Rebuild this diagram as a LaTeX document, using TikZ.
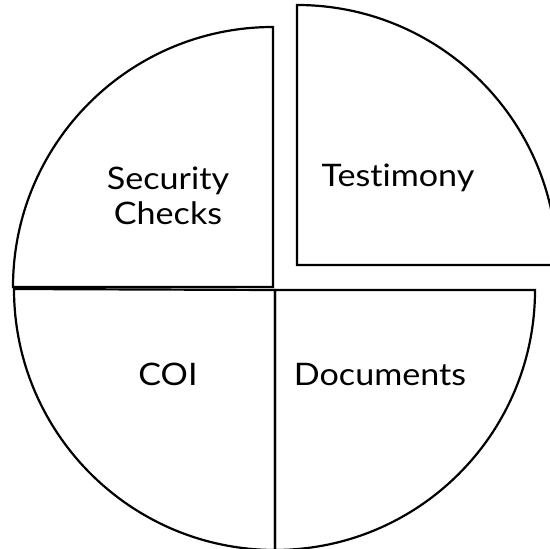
\documentclass[tikz,border=0pt]{standalone}
\usepackage{fontspec}
\setmainfont{Lato}[Ligatures={NoCommon}, FakeStretch=1.1]
\usetikzlibrary{positioning}

\begin{document}
\begin{tikzpicture}[x=0.5pt,y=-0.5pt,
    slice/.style={draw=black, line width=1.1pt, line join=miter},
    sectortext/.style={font=\fontsize{15.5}{17.5}\selectfont, align=center, inner sep=0pt}]
    \useasboundingbox (0,0) rectangle (550,549);
    \clip (0,0) rectangle (550,549);
    % four quarters, the top right one pulled out
    \draw[slice] (273,287) -- (13,287) arc[start angle=180, end angle=270, radius=260] -- cycle;
    \draw[slice] (297,265) -- (297,5) arc[start angle=270, end angle=360, radius=260] -- cycle;
    \draw[slice] (275,290) -- (535,290) arc[start angle=0, end angle=90, radius=260] -- cycle;
    \draw[slice] (275,290) -- (275,550) arc[start angle=90, end angle=180, radius=261] -- cycle;
    % labels
    \node[sectortext] (security) at (168,196) {Security\\Checks};
    \node[sectortext, anchor=base] (testimony) at (398,187) {Testimony};
    \node[sectortext, anchor=base] (coi) at (168,385) {COI};
    \node[sectortext, anchor=base] (documents) at (380,385) {Documents};
\end{tikzpicture}
\end{document}
